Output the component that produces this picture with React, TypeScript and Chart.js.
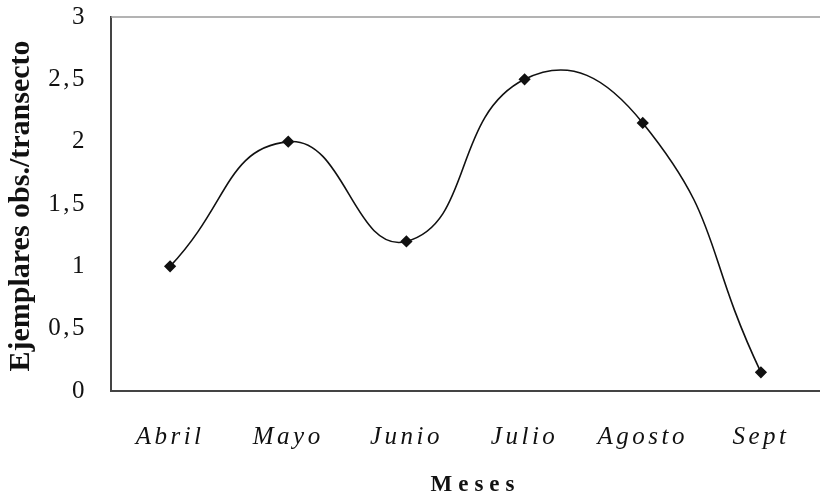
import React, { useEffect, useRef } from "react";
import { Chart, registerables } from "chart.js";

Chart.register(...registerables);

const categories = ["Abril", "Mayo", "Junio", "Julio", "Agosto", "Sept"];
const values = [1, 2, 1.2, 2.5, 2.15, 0.15];
const yTickLabels: Record<string, string> = { "0": "0", "0.5": "0,5", "1": "1", "1.5": "1,5", "2": "2", "2.5": "2,5", "3": "3" };

const FONT = "'Liberation Serif', 'DejaVu Serif', serif";

function patchSpacing(chart: any, scale: any, labelSp: string, titleSp: string, titleShift: [number, number]) {
  if (!scale || scale._lsPatched) return;
  const origLabels = scale.drawLabels.bind(scale);
  scale.drawLabels = (ca: any) => {
    const c = chart.ctx as any;
    c.save();
    c.letterSpacing = labelSp;
    origLabels(ca);
    c.restore();
  };
  const origTitle = scale.drawTitle.bind(scale);
  scale.drawTitle = () => {
    const c = chart.ctx as any;
    c.save();
    c.letterSpacing = titleSp;
    c.translate(titleShift[0], titleShift[1]);
    origTitle();
    c.restore();
  };
  scale._lsPatched = true;
}

const framePlugin = {
  id: "frameAndSpacing",
  beforeDraw(chart: any) {
    patchSpacing(chart, chart.scales.x, "3.5px", "6px", [10, 3]);
    patchSpacing(chart, chart.scales.y, "2.5px", "0px", [0, 2]);
  },
  afterDraw(chart: any) {
    const { ctx, chartArea } = chart;
    ctx.save();
    ctx.strokeStyle = "#9a9a9a";
    ctx.lineWidth = 1.5;
    ctx.beginPath();
    ctx.moveTo(chartArea.left, chartArea.top);
    ctx.lineTo(820, chartArea.top);
    ctx.stroke();
    ctx.restore();
  },
};

export default function App() {
  const ref = useRef<HTMLCanvasElement | null>(null);
  useEffect(() => {
    document.body.style.margin = "0";
    if (!ref.current) return;
    const chart = new Chart(ref.current, {
      type: "line",
      data: {
        labels: categories,
        datasets: [
          {
            data: values,
            borderColor: "#111",
            backgroundColor: "#111",
            borderWidth: 1.6,
            tension: 0.5,
            pointStyle: "rectRot",
            pointRadius: 5,
            pointBackgroundColor: "#111",
            pointBorderColor: "#111",
            fill: false,
          },
        ],
      },
      options: {
        animation: false,
        responsive: false,
        devicePixelRatio: 1,
        layout: { autoPadding: false, padding: { top: 17, right: -3, left: 0, bottom: 0 } },
        plugins: { legend: { display: false }, tooltip: { enabled: false } },
        scales: {
          x: {
            type: "category",
            offset: true,
            grid: { display: false, drawTicks: false },
            border: { display: true, color: "#444", width: 2 },
            ticks: {
              color: "#111",
              padding: 31,
              font: { family: FONT, size: 25, style: "italic" },
              maxRotation: 0,
            },
            title: {
              display: true,
              text: "Meses",
              color: "#111",
              padding: { top: 0, bottom: 2 },
              font: { family: FONT, size: 23, weight: "bold" },
            },
            afterFit: (s: any) => {
              s.height = 107;
              s.paddingLeft = 0;
              s.paddingRight = 0;
            },
          },
          y: {
            min: 0,
            max: 3,
            grid: { display: false, drawTicks: false },
            border: { display: true, color: "#444", width: 2 },
            ticks: {
              stepSize: 0.5,
              color: "#111",
              padding: 24,
              font: { family: FONT, size: 25 },
              callback: (v: any) => yTickLabels[String(v)] ?? String(v),
            },
            title: {
              display: true,
              text: "Ejemplares obs./transecto",
              color: "#111",
              padding: { top: 3, bottom: 0 },
              font: { family: FONT, size: 30, weight: "bold" },
            },
            afterFit: (s: any) => {
              s.width = 111;
              s.paddingTop = 0;
              s.paddingBottom = 0;
            },
          },
        },
      },
      plugins: [framePlugin],
    });
    return () => chart.destroy();
  }, []);
  return (
    <div style={{ position: "absolute", left: 0, top: 0, width: 820, height: 498, background: "#fff" }}>
      <canvas ref={ref} width={820} height={498} style={{ width: 820, height: 498 }} />
    </div>
  );
}
